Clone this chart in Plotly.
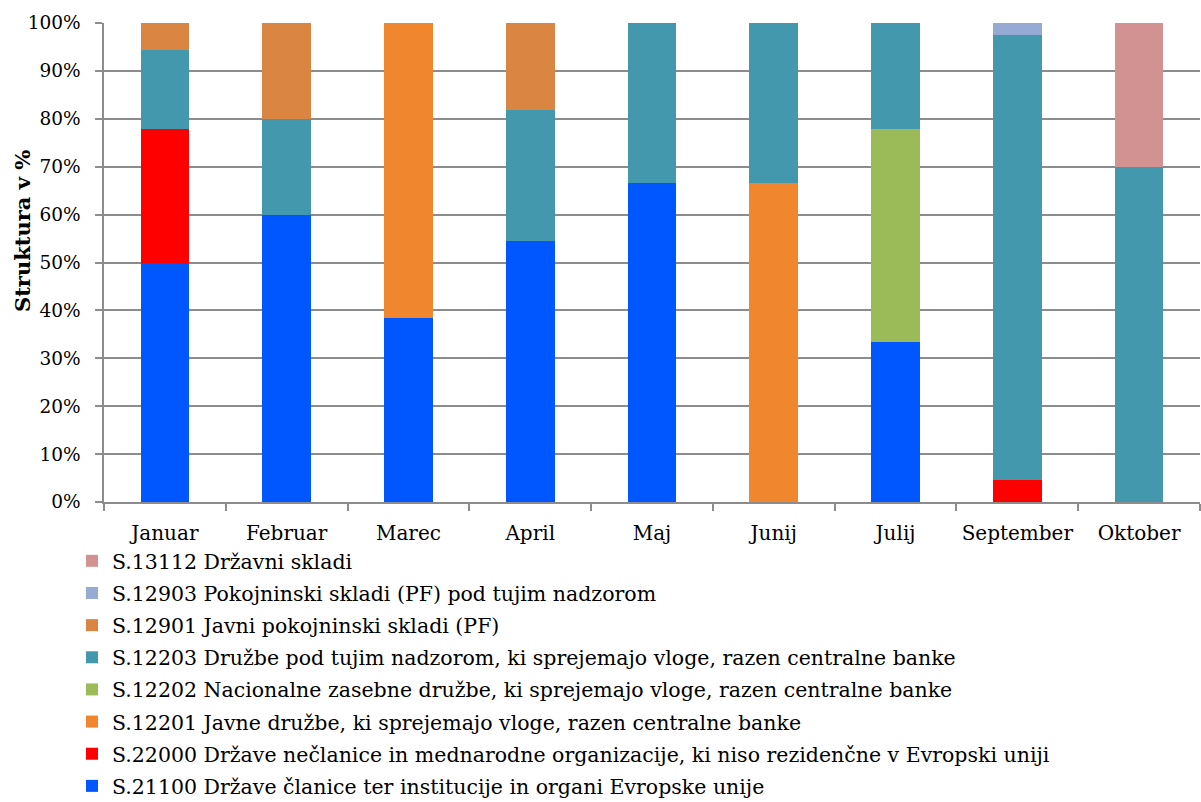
import plotly.graph_objects as go

months = ["Januar", "Februar", "Marec", "April", "Maj", "Junij", "Julij", "September", "Oktober"]

# Structure in % per month, by institutional sector (bottom of stack first)
s21100 = [50.0, 60.0, 38.5, 54.5, 66.7, 0.0, 33.3, 0.0, 0.0]
s22000 = [27.8, 0.0, 0.0, 0.0, 0.0, 0.0, 0.0, 4.5, 0.0]
s12201 = [0.0, 0.0, 61.5, 0.0, 0.0, 66.7, 0.0, 0.0, 0.0]
s12202 = [0.0, 0.0, 0.0, 0.0, 0.0, 0.0, 44.5, 0.0, 0.0]
s12203 = [16.6, 20.0, 0.0, 27.3, 33.3, 33.3, 22.2, 92.9, 70.0]
s12901 = [5.6, 20.0, 0.0, 18.2, 0.0, 0.0, 0.0, 0.0, 0.0]
s12903 = [0.0, 0.0, 0.0, 0.0, 0.0, 0.0, 0.0, 2.6, 0.0]
s13112 = [0.0, 0.0, 0.0, 0.0, 0.0, 0.0, 0.0, 0.0, 30.0]

series = [
    ("S.21100 Države članice ter institucije in organi Evropske unije", s21100, "#0057FF"),
    ("S.22000 Države nečlanice in mednarodne organizacije, ki niso rezidenčne v Evropski uniji", s22000, "#FF0000"),
    ("S.12201 Javne družbe, ki sprejemajo vloge, razen centralne banke", s12201, "#F0872F"),
    ("S.12202 Nacionalne zasebne družbe, ki sprejemajo vloge, razen centralne banke", s12202, "#9BBB59"),
    ("S.12203 Družbe pod tujim nadzorom, ki sprejemajo vloge, razen centralne banke", s12203, "#4398AE"),
    ("S.12901 Javni pokojninski skladi (PF)", s12901, "#DB8542"),
    ("S.12903 Pokojninski skladi (PF) pod tujim nadzorom", s12903, "#95ABD4"),
    ("S.13112 Državni skladi", s13112, "#D29292"),
]

font_family = "DejaVu Serif, serif"

fig = go.Figure()
n = len(series)
for i, (name, vals, color) in enumerate(series):
    fig.add_trace(go.Bar(
        x=months,
        y=[v if v > 0 else None for v in vals],
        name=name,
        marker=dict(color=color, line=dict(width=0)),
        legendgroup=f"g{i}",
        legendrank=(n - i) * 10,
    ))

grid_col = "#8C8C8C"

fig.update_layout(
    barmode="stack",
    bargap=0.6,
    width=1201,
    height=802,
    margin=dict(l=104, r=1, t=23, b=300, autoexpand=False),
    paper_bgcolor="white",
    plot_bgcolor="white",
    font=dict(family=font_family, size=19, color="#000000"),
    showlegend=True,
    legend=dict(
        xref="container", yref="container",
        x=72 / 1201, y=1 - 541 / 802,
        xanchor="left", yanchor="top",
        traceorder="grouped",
        tracegroupgap=2.5,
        font=dict(family=font_family, size=20.5),
        itemwidth=30,
        bgcolor="rgba(0,0,0,0)",
    ),
    xaxis=dict(
        showline=True, linecolor=grid_col, linewidth=1.5,
        ticks="outside", tickson="boundaries", ticklen=7, tickcolor=grid_col, tickwidth=1.5,
        showgrid=False,
        tickangle=0,
        ticklabelstandoff=12,
        tickfont=dict(size=20),
    ),
    yaxis=dict(
        range=[0, 100], dtick=10, ticksuffix="%",
        showline=True, linecolor=grid_col, linewidth=1.5,
        showgrid=True, gridcolor=grid_col, gridwidth=1.5,
        ticks="outside", ticklen=7, tickcolor=grid_col, tickwidth=1.5,
        ticklabelstandoff=11,
        tickfont=dict(size=18.5),
        zeroline=False,
    ),
    annotations=[dict(
        text="<b>Struktura v %</b>",
        xref="paper", yref="paper",
        x=(22 - 104) / 1096, y=(502 - 231) / 479,
        xanchor="center", yanchor="middle",
        textangle=-90, showarrow=False,
        font=dict(family=font_family, size=21),
    )],
)

fig.write_html("out.html")
